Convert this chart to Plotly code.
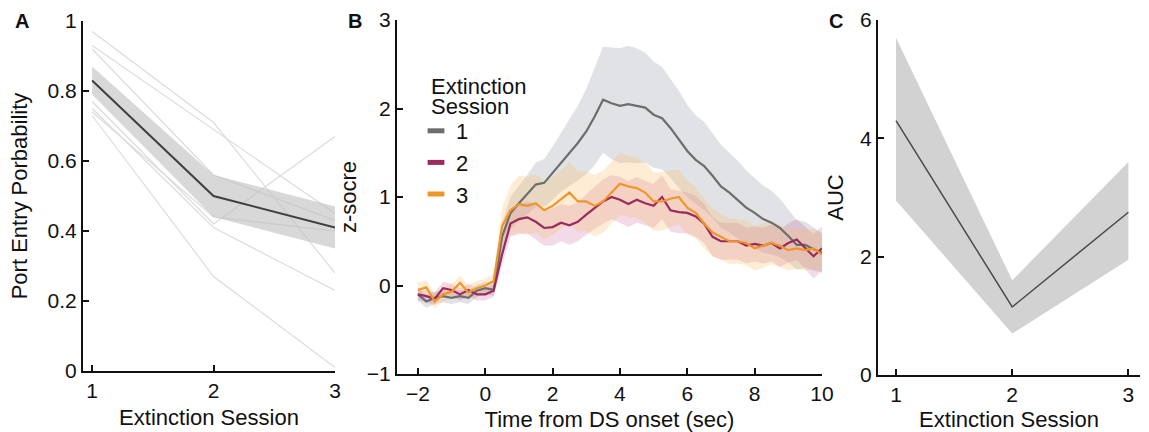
import numpy as np
import plotly.graph_objects as go

# ---------------- Panel A data ----------------
sessions = [1, 2, 3]
subject_probs = [
    [0.97, 0.71, 0.28],
    [0.93, 0.69, 0.45],
    [0.92, 0.56, 0.43],
    [0.77, 0.42, 0.67],
    [0.75, 0.41, 0.23],
    [0.74, 0.44, 0.40],
    [0.73, 0.27, 0.01],
]
mean_prob = [0.83, 0.50, 0.41]
sem_prob = [0.04, 0.06, 0.06]

# ---------------- Panel B data ----------------
time_s = [-2.0, -1.75, -1.5, -1.25, -1.0, -0.75, -0.5, -0.25, 0.0, 0.25, 0.5, 0.75,
          1.0, 1.25, 1.5, 1.75, 2.0, 2.25, 2.5, 2.75, 3.0, 3.25, 3.5, 3.75,
          4.0, 4.25, 4.5, 4.75, 5.0, 5.25, 5.5, 5.75, 6.0, 6.25, 6.5, 6.75,
          7.0, 7.25, 7.5, 7.75, 8.0, 8.25, 8.5, 8.75, 9.0, 9.25, 9.5, 9.75, 10.0]
z_s1 = [-0.10, -0.18, -0.14, -0.12, -0.14, -0.12, -0.14, -0.06, -0.03, -0.05, 0.55, 0.82,
        0.93, 1.03, 1.14, 1.16, 1.27, 1.39, 1.50, 1.61, 1.74, 1.91, 2.10, 2.06,
        2.03, 2.05, 2.03, 2.01, 1.93, 1.89, 1.78, 1.65, 1.52, 1.42, 1.35, 1.24,
        1.12, 1.05, 0.97, 0.88, 0.82, 0.75, 0.71, 0.65, 0.56, 0.46, 0.46, 0.41, 0.37]
sem_s1 = [0.07, 0.07, 0.07, 0.07, 0.07, 0.07, 0.07, 0.07, 0.07, 0.07, 0.15, 0.18,
          0.20, 0.22, 0.25, 0.27, 0.30, 0.33, 0.38, 0.42, 0.48, 0.55, 0.60, 0.63,
          0.65, 0.66, 0.65, 0.62, 0.60, 0.58, 0.56, 0.55, 0.52, 0.50, 0.50, 0.48,
          0.47, 0.45, 0.44, 0.42, 0.40, 0.38, 0.36, 0.33, 0.30, 0.28, 0.26, 0.24, 0.22]
z_s2 = [-0.10, -0.12, -0.15, -0.03, -0.05, -0.10, -0.05, -0.10, -0.10, -0.06, 0.35, 0.70,
        0.75, 0.77, 0.72, 0.65, 0.66, 0.71, 0.68, 0.72, 0.80, 0.88, 0.95, 1.00,
        0.97, 0.92, 0.97, 0.93, 0.90, 1.00, 0.85, 0.83, 0.82, 0.78, 0.70, 0.55,
        0.50, 0.50, 0.50, 0.45, 0.47, 0.45, 0.48, 0.42, 0.48, 0.52, 0.43, 0.33, 0.42]
sem_s2 = [0.07, 0.07, 0.07, 0.07, 0.07, 0.07, 0.07, 0.07, 0.07, 0.07, 0.12, 0.15,
          0.17, 0.18, 0.20, 0.20, 0.21, 0.21, 0.22, 0.22, 0.23, 0.24, 0.25, 0.25,
          0.26, 0.26, 0.26, 0.25, 0.25, 0.25, 0.24, 0.24, 0.23, 0.23, 0.22, 0.22,
          0.21, 0.21, 0.21, 0.20, 0.20, 0.20, 0.21, 0.21, 0.22, 0.23, 0.24, 0.25, 0.25]
z_s3 = [-0.05, -0.02, -0.18, -0.10, -0.07, 0.03, -0.08, -0.03, 0.00, 0.05, 0.67, 0.85,
        0.92, 0.90, 0.93, 0.85, 0.90, 0.97, 1.05, 0.95, 0.95, 0.90, 0.95, 1.05,
        1.15, 1.12, 1.10, 1.05, 0.95, 0.95, 0.98, 1.00, 0.88, 0.82, 0.70, 0.60,
        0.55, 0.50, 0.50, 0.48, 0.42, 0.45, 0.48, 0.45, 0.40, 0.42, 0.40, 0.42, 0.35]
sem_s3 = [0.08, 0.08, 0.08, 0.08, 0.08, 0.08, 0.08, 0.08, 0.08, 0.08, 0.20, 0.28,
          0.32, 0.33, 0.33, 0.33, 0.33, 0.33, 0.34, 0.34, 0.34, 0.35, 0.35, 0.35,
          0.35, 0.35, 0.34, 0.34, 0.33, 0.33, 0.32, 0.31, 0.30, 0.29, 0.28, 0.27,
          0.26, 0.26, 0.25, 0.25, 0.25, 0.25, 0.24, 0.24, 0.23, 0.23, 0.23, 0.22, 0.22]
legend_labels = ["1", "2", "3"]
legend_title_lines = ["Extinction", "Session"]

# ---------------- Panel C data ----------------
auc_mean = [4.30, 1.15, 2.75]
auc_lower = [2.95, 0.70, 1.95]
auc_upper = [5.70, 1.60, 3.60]

# ---------------- styles ----------------
FONT = "Liberation Sans, Arial, sans-serif"
line_cols = ["#6d6d6d", "#9b2a5d", "#f0952a"]
band_cols = ["rgba(175,180,186,0.38)", "rgba(190,70,140,0.20)", "rgba(250,190,100,0.28)"]
TICK_SIZE = 21
TITLE_SIZE = 22

fig = go.Figure()

def band(x, lo, hi, color, xa, ya):
    xs = list(x) + list(x)[::-1]
    ys = list(hi) + list(lo)[::-1]
    fig.add_trace(go.Scatter(x=xs, y=ys, fill="toself", fillcolor=color,
                             line=dict(width=0), mode="lines", hoverinfo="skip",
                             showlegend=False, xaxis=xa, yaxis=ya))

# Panel A
for subj in subject_probs:
    fig.add_trace(go.Scatter(x=sessions, y=subj, mode="lines",
                             line=dict(color="#dcdcdc", width=1.2),
                             showlegend=False, xaxis="x", yaxis="y"))
mp = np.array(mean_prob); sp = np.array(sem_prob)
band(sessions, mp - sp, mp + sp, "rgba(190,190,190,0.6)", "x", "y")
fig.add_trace(go.Scatter(x=sessions, y=mean_prob, mode="lines",
                         line=dict(color="#3f3f3f", width=2),
                         showlegend=False, xaxis="x", yaxis="y"))

# Panel B
series = [(z_s1, sem_s1), (z_s2, sem_s2), (z_s3, sem_s3)]
for i, (zm, se) in enumerate(series):
    zm = np.array(zm); se = np.array(se)
    band(time_s, zm - se, zm + se, band_cols[i], "x2", "y2")
for i, (zm, se) in enumerate(series):
    fig.add_trace(go.Scatter(x=time_s, y=zm, mode="lines",
                             line=dict(color=line_cols[i], width=2.2),
                             showlegend=False, xaxis="x2", yaxis="y2"))
for i, lab in enumerate(legend_labels):
    fig.add_trace(go.Scatter(x=[None], y=[None], mode="markers", name=lab,
                             legendgroup=lab,
                             marker=dict(symbol="line-ew-open", size=12, color=line_cols[i],
                                         line=dict(color=line_cols[i], width=5)),
                             xaxis="x2", yaxis="y2"))

# Panel C
band(sessions, auc_lower, auc_upper, "#d2d2d2", "x3", "y3")
fig.add_trace(go.Scatter(x=sessions, y=auc_mean, mode="lines",
                         line=dict(color="#4a4a4a", width=1.5),
                         showlegend=False, xaxis="x3", yaxis="y3"))

W, H = 1149, 432
def px_x(a, b):
    return [a / W, b / W]
def px_y(top, bottom):
    return [(H - bottom) / H, (H - top) / H]

axis_common = dict(showgrid=False, zeroline=False, showline=True, linecolor="#111",
                   linewidth=2, ticks="inside", ticklen=6, tickwidth=2, tickcolor="#111",
                   automargin=False,
                   tickfont=dict(family=FONT, size=TICK_SIZE, color="#111"))

def xt(text):
    return dict(text=text, font=dict(size=TITLE_SIZE), standoff=8)
def yt(text, s=12):
    return dict(text=text, font=dict(size=TITLE_SIZE), standoff=s)

fig.update_layout(
    template="none",
    width=W, height=H, margin=dict(l=0, r=0, t=0, b=0, autoexpand=False),
    plot_bgcolor="white", paper_bgcolor="white",
    font=dict(family=FONT, color="#111"),
    xaxis=dict(domain=px_x(83, 335), range=[0.925, 3.0], tickvals=[1, 2, 3],
               anchor="y", title=xt("Extinction Session"), **axis_common),
    yaxis=dict(domain=px_y(21, 371), range=[0, 1], tickvals=[0, 0.2, 0.4, 0.6, 0.8, 1],
               ticktext=["0", "0.2", "0.4", "0.6", "0.8", "1"], anchor="x",
               title=yt("Port Entry Porbability", 14), **axis_common),
    xaxis2=dict(domain=px_x(397, 822), range=[-2.62, 10], tickvals=[-2, 0, 2, 4, 6, 8, 10],
                anchor="y2", title=xt("Time from DS onset (sec)"), **axis_common),
    yaxis2=dict(domain=px_y(20, 374), range=[-1, 3], tickvals=[-1, 0, 1, 2, 3], anchor="x2",
                title=yt("z-socre", 4), **axis_common),
    xaxis3=dict(domain=px_x(878, 1140), range=[0.845, 3.1], tickvals=[1, 2, 3],
                anchor="y3", title=xt("Extinction Session"), **axis_common),
    yaxis3=dict(domain=px_y(20, 375), range=[0, 6], tickvals=[0, 2, 4, 6], anchor="x3",
                title=yt("AUC", 10), **axis_common),
    legend=dict(x=416 / W, y=1 - 110 / H, xanchor="left", yanchor="top",
                bgcolor="rgba(0,0,0,0)", borderwidth=0,
                font=dict(family=FONT, size=TITLE_SIZE, color="#111"),
                itemwidth=30, tracegroupgap=0),
    showlegend=True,
)

# legend heading (two tight lines)
for k, line in enumerate(legend_title_lines):
    fig.add_annotation(text=line, x=429 / W, y=1 - (87 + 20 * k) / H, xref="paper", yref="paper",
                       xanchor="left", yanchor="middle", showarrow=False,
                       font=dict(family=FONT, size=TITLE_SIZE, color="#111"))

for txt, xp in [("A", 13), ("B", 346), ("C", 827)]:
    fig.add_annotation(text="<b>%s</b>" % txt, x=xp / W, y=1 - 8 / H, xref="paper", yref="paper",
                       xanchor="left", yanchor="top", showarrow=False,
                       font=dict(family=FONT, size=20, color="#111"))

fig.write_html("out.html", config={"displayModeBar": False},
               post_script="document.body.style.margin='0';document.body.style.padding='0';")
